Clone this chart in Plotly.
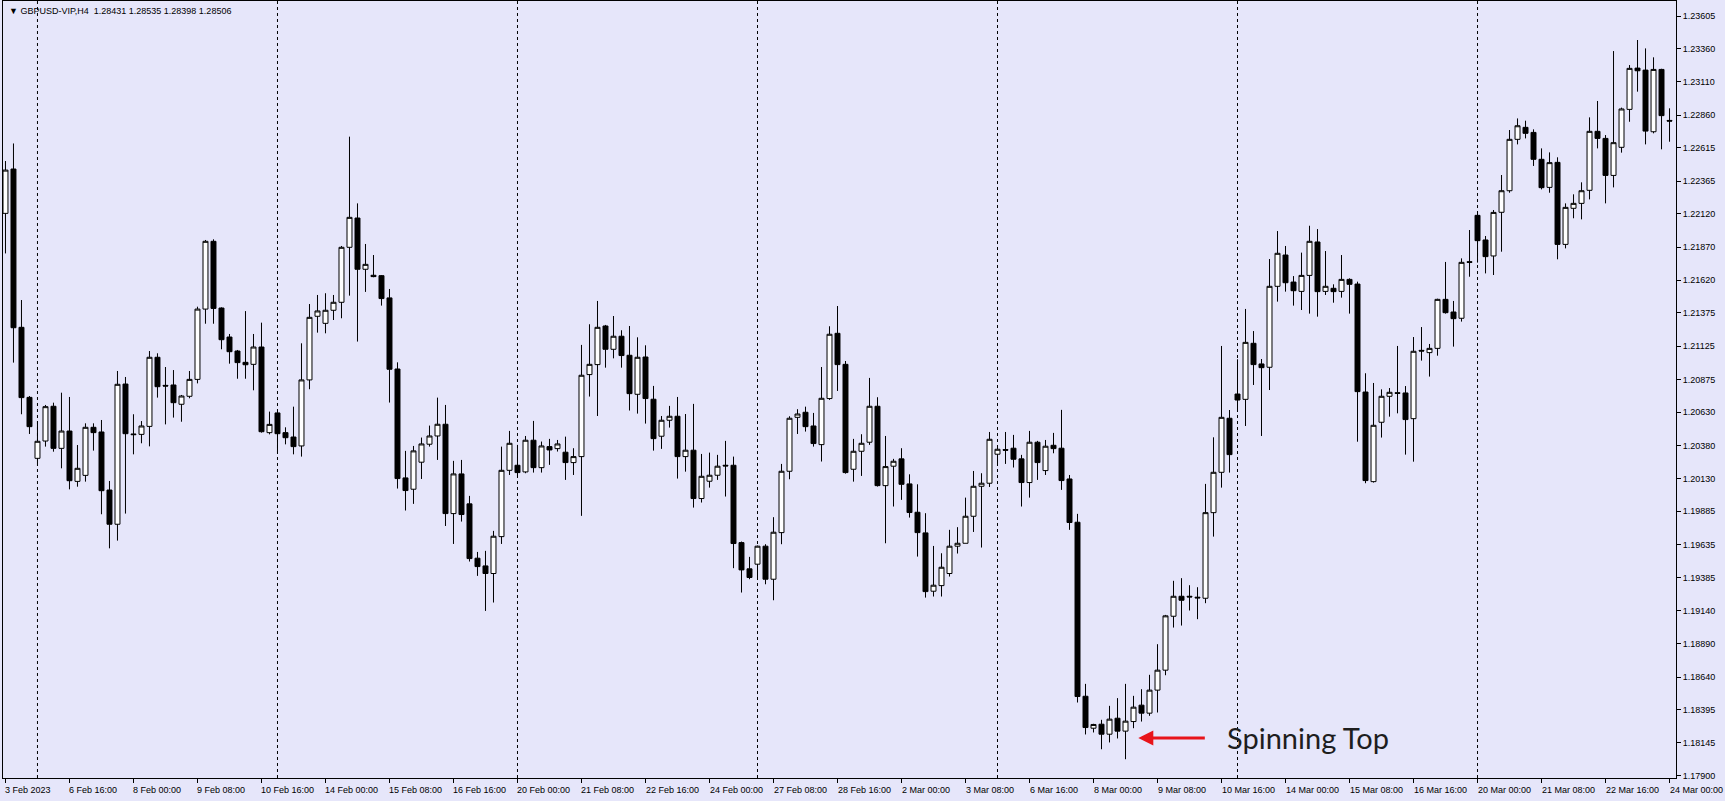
import plotly.graph_objects as go

# GBPUSD H4, 3 Feb 2023 08:00 .. 24 Mar 2023 00:00 (one candle per bar index)
opens = [
    1.22123, 1.22456, 1.21267, 1.20741, 1.20283, 1.20413, 1.20674, 1.20358, 1.20488, 1.20110,
    1.20155, 1.20516, 1.20481, 1.20045, 1.19788, 1.20841, 1.20466, 1.20463, 1.20523, 1.21042,
    1.20831, 1.20834, 1.20689, 1.20749, 1.20876, 1.21404, 1.21913, 1.21412, 1.21194, 1.21089,
    1.21004, 1.20989, 1.21119, 1.20476, 1.20624, 1.20476, 1.20443, 1.20376, 1.20872, 1.21350,
    1.21297, 1.21395, 1.21455, 1.21868, 1.22088, 1.21703, 1.21658, 1.21655, 1.21488, 1.20954,
    1.20136, 1.20051, 1.20254, 1.20389, 1.20451, 1.20539, 1.19868, 1.20166, 1.19941, 1.19533,
    1.19475, 1.19418, 1.19695, 1.20193, 1.20231, 1.20181, 1.20419, 1.20213, 1.20371, 1.20356,
    1.20329, 1.20251, 1.20296, 1.20912, 1.20987, 1.21277, 1.21102, 1.21200, 1.21057, 1.20764,
    1.21044, 1.20727, 1.20449, 1.20569, 1.20599, 1.20296, 1.20344, 1.19981, 1.20111, 1.20156,
    1.20231, 1.20231, 1.19650, 1.19453, 1.19488, 1.19623, 1.19375, 1.19725, 1.20186, 1.20591,
    1.20629, 1.20526, 1.20386, 1.20732, 1.21222, 1.20989, 1.20201, 1.20336, 1.20404, 1.20674,
    1.20078, 1.20224, 1.20279, 1.20091, 1.19878, 1.19723, 1.19285, 1.19327, 1.19418, 1.19623,
    1.19645, 1.19848, 1.20073, 1.20096, 1.20314, 1.20349, 1.20359, 1.20279, 1.20101, 1.20404,
    1.20191, 1.20381, 1.20359, 1.20128, 1.19803, 1.18496, 1.18256, 1.18286, 1.18211, 1.18331,
    1.18234, 1.18306, 1.18429, 1.18369, 1.18542, 1.18692, 1.19097, 1.19247, 1.19247, 1.19240,
    1.19232, 1.19875, 1.20178, 1.20584, 1.20766, 1.20726, 1.21147, 1.20992, 1.20967, 1.21575,
    1.21810, 1.21607, 1.21537, 1.21657, 1.21908, 1.21537, 1.21560, 1.21537, 1.21627, 1.21592,
    1.20781, 1.20108, 1.20554, 1.20749, 1.20776, 1.20774, 1.20581, 1.21094, 1.21077, 1.21109,
    1.21477, 1.21382, 1.21335, 1.21760, 1.22108, 1.21923, 1.21803, 1.22131, 1.22293, 1.22679,
    1.22769, 1.22731, 1.22529, 1.22318, 1.22506, 1.21890, 1.22161, 1.22198, 1.22296, 1.22739,
    1.22686, 1.22408, 1.22619, 1.22904, 1.23214, 1.23199, 1.22736, 1.23204, 1.22821,
]
highs = [
    1.22516, 1.22648, 1.21472, 1.20751, 1.20563, 1.20684, 1.20701, 1.20776, 1.20744, 1.20383,
    1.20546, 1.20546, 1.20571, 1.20113, 1.20939, 1.20894, 1.20614, 1.20563, 1.21089, 1.21072,
    1.20969, 1.20946, 1.20759, 1.20939, 1.21422, 1.21923, 1.21928, 1.21417, 1.21217, 1.21097,
    1.21389, 1.21217, 1.21302, 1.20634, 1.20634, 1.20516, 1.20671, 1.21147, 1.21442, 1.21510,
    1.21523, 1.21510, 1.21878, 1.22699, 1.22198, 1.21893, 1.21810, 1.21660, 1.21555, 1.21004,
    1.20339, 1.20376, 1.20439, 1.20529, 1.20739, 1.20684, 1.20264, 1.20271, 1.20001, 1.19580,
    1.19588, 1.19738, 1.20371, 1.20489, 1.20384, 1.20451, 1.20564, 1.20409, 1.20429, 1.20421,
    1.20446, 1.20359, 1.21135, 1.21290, 1.21465, 1.21285, 1.21352, 1.21245, 1.21277, 1.21192,
    1.21132, 1.20827, 1.20601, 1.20677, 1.20744, 1.20616, 1.20692, 1.20316, 1.20326, 1.20309,
    1.20414, 1.20296, 1.19658, 1.19543, 1.19628, 1.19638, 1.19841, 1.20241, 1.20599, 1.20652,
    1.20671, 1.20624, 1.20969, 1.21275, 1.21427, 1.21014, 1.20429, 1.20464, 1.20887, 1.20742,
    1.20451, 1.20279, 1.20359, 1.20163, 1.20088, 1.19871, 1.19625, 1.19570, 1.19746, 1.19766,
    1.19988, 1.20188, 1.20171, 1.20481, 1.20371, 1.20481, 1.20459, 1.20309, 1.20489, 1.20414,
    1.20421, 1.20474, 1.20647, 1.20158, 1.19866, 1.18589, 1.18289, 1.18319, 1.18424, 1.18482,
    1.18589, 1.18499, 1.18549, 1.18657, 1.18887, 1.19107, 1.19363, 1.19383, 1.19330, 1.19315,
    1.20091, 1.20441, 1.21127, 1.20646, 1.21027, 1.21405, 1.21239, 1.21029, 1.21780, 1.21990,
    1.21878, 1.21652, 1.21828, 1.22030, 1.22005, 1.21840, 1.21590, 1.21810, 1.21635, 1.21610,
    1.20922, 1.20849, 1.20801, 1.20811, 1.21127, 1.20826, 1.21194, 1.21269, 1.21142, 1.21482,
    1.21758, 1.21465, 1.21785, 1.21998, 1.22133, 1.21953, 1.22148, 1.22411, 1.22749, 1.22836,
    1.22819, 1.22754, 1.22611, 1.22581, 1.22544, 1.22198, 1.22266, 1.22356, 1.22844, 1.22967,
    1.22711, 1.23342, 1.22917, 1.23237, 1.23425, 1.23362, 1.23295, 1.23209, 1.22912,
]
lows = [
    1.21822, 1.21002, 1.20614, 1.20466, 1.20246, 1.20371, 1.20333, 1.20208, 1.20050, 1.20070,
    1.20108, 1.20341, 1.19863, 1.19607, 1.19665, 1.19868, 1.20313, 1.20396, 1.20373, 1.20739,
    1.20538, 1.20589, 1.20558, 1.20734, 1.20846, 1.21294, 1.21294, 1.21102, 1.20994, 1.20881,
    1.20881, 1.20794, 1.20476, 1.20463, 1.20321, 1.20388, 1.20313, 1.20296, 1.20802, 1.21227,
    1.21222, 1.21322, 1.21335, 1.21505, 1.21160, 1.21533, 1.21643, 1.21430, 1.20702, 1.20056,
    1.19891, 1.19941, 1.20128, 1.20371, 1.20271, 1.19775, 1.19640, 1.19808, 1.19508, 1.19400,
    1.19137, 1.19200, 1.19640, 1.20158, 1.20146, 1.20171, 1.20176, 1.20176, 1.20234, 1.20334,
    1.20121, 1.20158, 1.19851, 1.20747, 1.20601, 1.20964, 1.21034, 1.20964, 1.20642, 1.20619,
    1.20544, 1.20341, 1.20354, 1.20514, 1.20131, 1.20183, 1.19913, 1.19951, 1.20063, 1.20121,
    1.19996, 1.19458, 1.19275, 1.19375, 1.19370, 1.19337, 1.19217, 1.19638, 1.20126, 1.20466,
    1.20484, 1.20371, 1.20259, 1.20722, 1.20789, 1.20168, 1.20108, 1.20151, 1.20384, 1.20071,
    1.19645, 1.19921, 1.19971, 1.19838, 1.19545, 1.19237, 1.19245, 1.19245, 1.19395, 1.19568,
    1.19645, 1.19730, 1.19613, 1.20068, 1.20231, 1.20241, 1.20214, 1.19921, 1.19988, 1.20121,
    1.20158, 1.20321, 1.20046, 1.19746, 1.18449, 1.18209, 1.18224, 1.18098, 1.18149, 1.18179,
    1.18023, 1.18256, 1.18306, 1.18349, 1.18374, 1.18654, 1.19012, 1.19027, 1.19140, 1.19075,
    1.19195, 1.19695, 1.20063, 1.20176, 1.20634, 1.20526, 1.20834, 1.20451, 1.20796, 1.21460,
    1.21535, 1.21430, 1.21397, 1.21370, 1.21347, 1.21510, 1.21452, 1.21490, 1.21370, 1.20408,
    1.20096, 1.20101, 1.20439, 1.20596, 1.20621, 1.20311, 1.20258, 1.21017, 1.20897, 1.21054,
    1.21370, 1.21122, 1.21310, 1.21647, 1.21753, 1.21672, 1.21660, 1.21835, 1.22278, 1.22641,
    1.22686, 1.22479, 1.22303, 1.22278, 1.21778, 1.21860, 1.22086, 1.22078, 1.22228, 1.22611,
    1.22198, 1.22318, 1.22579, 1.22811, 1.23037, 1.22641, 1.22724, 1.22604, 1.22661,
]
closes = [
    1.22448, 1.21264, 1.20739, 1.20521, 1.20411, 1.20671, 1.20358, 1.20488, 1.20115, 1.20208,
    1.20516, 1.20476, 1.20040, 1.19788, 1.20839, 1.20468, 1.20461, 1.20526, 1.21042, 1.20821,
    1.20826, 1.20701, 1.20751, 1.20876, 1.21404, 1.21913, 1.21409, 1.21174, 1.21084, 1.21002,
    1.20986, 1.21119, 1.20483, 1.20538, 1.20468, 1.20438, 1.20371, 1.20872, 1.21342, 1.21390,
    1.21395, 1.21455, 1.21868, 1.22093, 1.21703, 1.21740, 1.21648, 1.21483, 1.20952, 1.20131,
    1.20041, 1.20339, 1.20391, 1.20451, 1.20539, 1.19868, 1.20166, 1.19861, 1.19530, 1.19470,
    1.19418, 1.19698, 1.20193, 1.20396, 1.20176, 1.20419, 1.20213, 1.20376, 1.20346, 1.20391,
    1.20251, 1.20296, 1.20907, 1.20989, 1.21267, 1.21102, 1.21200, 1.21055, 1.20769, 1.21042,
    1.20732, 1.20431, 1.20569, 1.20599, 1.20296, 1.20344, 1.19981, 1.20148, 1.20156, 1.20224,
    1.20226, 1.19643, 1.19445, 1.19388, 1.19623, 1.19375, 1.19728, 1.20186, 1.20584, 1.20616,
    1.20521, 1.20394, 1.20734, 1.21215, 1.20987, 1.20176, 1.20336, 1.20396, 1.20674, 1.20078,
    1.20221, 1.20261, 1.20088, 1.19876, 1.19725, 1.19282, 1.19330, 1.19465, 1.19623, 1.19645,
    1.19848, 1.20073, 1.20096, 1.20426, 1.20351, 1.20344, 1.20276, 1.20101, 1.20404, 1.20251,
    1.20374, 1.20356, 1.20116, 1.19801, 1.18494, 1.18261, 1.18284, 1.18211, 1.18324, 1.18234,
    1.18309, 1.18414, 1.18369, 1.18542, 1.18692, 1.19100, 1.19247, 1.19217, 1.19242, 1.19235,
    1.19875, 1.20178, 1.20591, 1.20311, 1.20721, 1.21154, 1.20987, 1.20964, 1.21575, 1.21823,
    1.21602, 1.21542, 1.21657, 1.21913, 1.21535, 1.21575, 1.21535, 1.21627, 1.21590, 1.20784,
    1.20116, 1.20531, 1.20749, 1.20779, 1.20771, 1.20574, 1.21087, 1.21089, 1.21109, 1.21477,
    1.21377, 1.21332, 1.21755, 1.21755, 1.21918, 1.21798, 1.22130, 1.22293, 1.22679, 1.22781,
    1.22724, 1.22529, 1.22316, 1.22504, 1.21890, 1.22168, 1.22198, 1.22293, 1.22739, 1.22686,
    1.22408, 1.22654, 1.22907, 1.23212, 1.23194, 1.22741, 1.23204, 1.22857, 1.22816,
]
bars = list(range(len(opens)))

# time axis labels, one every 8 bars
label_bars = list(range(0, 209, 8))
time_labels = [
    "3 Feb 2023", "6 Feb 16:00", "8 Feb 00:00", "9 Feb 08:00", "10 Feb 16:00",
    "14 Feb 00:00", "15 Feb 08:00", "16 Feb 16:00", "20 Feb 00:00", "21 Feb 08:00",
    "22 Feb 16:00", "24 Feb 00:00", "27 Feb 08:00", "28 Feb 16:00", "2 Mar 00:00",
    "3 Mar 08:00", "6 Mar 16:00", "8 Mar 00:00", "9 Mar 08:00", "10 Mar 16:00",
    "14 Mar 00:00", "15 Mar 08:00", "16 Mar 16:00", "20 Mar 00:00", "21 Mar 08:00",
    "22 Mar 16:00", "24 Mar 00:00",
]
# Monday 00:00 bars -> period separators
week_start_bars = [4, 34, 64, 94, 124, 154, 184]

price_ticks = [
    1.23605, 1.23360, 1.23110, 1.22860, 1.22615, 1.22365, 1.22120, 1.21870,
    1.21620, 1.21375, 1.21125, 1.20875, 1.20630, 1.20380, 1.20130, 1.19885,
    1.19635, 1.19385, 1.19140, 1.18890, 1.18640, 1.18395, 1.18145, 1.17900,
]

BG = "#E6E6FA"
FONT = "Liberation Sans"

fig = go.Figure()
fig.add_trace(go.Candlestick(
    x=bars, open=opens, high=highs, low=lows, close=closes,
    increasing=dict(line=dict(color="black", width=1), fillcolor="white"),
    decreasing=dict(line=dict(color="black", width=1), fillcolor="black"),
    whiskerwidth=0, hoverinfo="skip", showlegend=False,
))

for b in week_start_bars:
    fig.add_shape(type="line", x0=b, x1=b, y0=0, y1=1, xref="x", yref="paper",
                  line=dict(color="black", width=1, dash="3px,3px"), layer="below")

for b, t in zip(label_bars, time_labels):
    fig.add_annotation(x=b, y=0, xref="x", yref="paper", text=t, showarrow=False,
                       xanchor="left", yanchor="top", xshift=-2, yshift=-5,
                       font=dict(family=FONT, size=9, color="black"))

# header line
fig.add_annotation(x=0, y=1, xref="paper", yref="paper",
                   text="\u25BC GBPUSD-VIP,H4  1.28431 1.28535 1.28398 1.28506",
                   showarrow=False, xanchor="left", yanchor="top", xshift=4, yshift=-3,
                   font=dict(family=FONT, size=9, color="black"))

# spinning top note
fig.add_annotation(x=141.6, y=1.18183, ax=150.1, ay=1.18183, xref="x", yref="y",
                   axref="x", ayref="y", text="", showarrow=True, arrowhead=2,
                   arrowsize=1, arrowwidth=3, arrowcolor="#E8141A", standoff=0)
fig.add_annotation(x=152.4, y=1.18183, xref="x", yref="y", text="Spinning Top",
                   showarrow=False, xanchor="left", yanchor="middle",
                   font=dict(family="Lato", size=29, color="#1E1E1E"))

fig.update_layout(
    width=1725, height=801,
    margin=dict(l=3, r=49, t=1, b=23),
    paper_bgcolor=BG, plot_bgcolor=BG,
    boxgap=0.38, boxgroupgap=0,
    showlegend=False,
    xaxis=dict(range=[-0.31, 208.81], rangeslider=dict(visible=False),
               tickvals=label_bars, showticklabels=False, ticks="outside", ticklen=4,
               tickcolor="black", showgrid=False, zeroline=False,
               showline=True, linecolor="black", linewidth=1, mirror=True),
    yaxis=dict(range=[1.17882, 1.23718], side="right",
               tickvals=price_ticks, ticktext=["%.5f" % v for v in price_ticks],
               ticks="outside", ticklen=4, tickcolor="black",
               tickfont=dict(family=FONT, size=9, color="black"),
               showgrid=False, zeroline=False,
               showline=True, linecolor="black", linewidth=1, mirror=True),
)

# page body has a default 8px margin; drop it so the figure sits at the window corner
fig.write_html("out.html", config={"displayModeBar": False},
               post_script="document.body.style.margin='0px';")
